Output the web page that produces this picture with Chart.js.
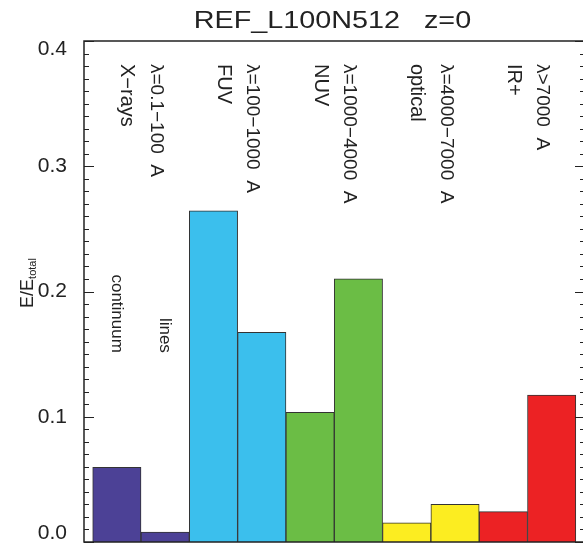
<!DOCTYPE html>
<html>
<head>
<meta charset="utf-8">
<script src="https://cdn.jsdelivr.net/npm/chart.js@4"></script>
<style>
  html, body { margin: 0; padding: 0; background: #fff; overflow: hidden; }
  #wrap { width: 583px; height: 544px; overflow: hidden; }
  canvas { display: block; }
</style>
</head>
<body>
<div id="wrap"><canvas id="energyChart" width="592" height="544"></canvas></div>
<script>
// energy fraction per band, split into continuum and line emission
const bands = ['X\u2212rays', 'FUV', 'NUV', 'optical', 'IR+'];
const bandRanges = ['\u03bb=0.1\u2212100  A', '\u03bb=100\u22121000  A', '\u03bb=1000\u22124000  A', '\u03bb=4000\u22127000  A', '\u03bb>7000  A'];
const components = ['continuum', 'lines'];
const continuumFrac = [0.0596, 0.2645, 0.1035, 0.0154, 0.0242];
const linesFrac = [0.0080, 0.1674, 0.2102, 0.0301, 0.1174];
const bandColors = ['#4c4196', '#3bbfed', '#6bbd45', '#fced21', '#ec2224'];
const yTicks = [0, 0.1, 0.2, 0.3, 0.4];
const yTickLabels = ['0.0', '0.1', '0.2', '0.3', '0.4'];

const FONT = '"Liberation Sans", Arial, sans-serif';
const INK = '#222';

// one bar per (band, component), placed at x = 0..9
const bars = [];
const barColors = [];
bands.forEach((b, i) => {
    bars.push({ x: 2 * i, y: continuumFrac[i] });
    bars.push({ x: 2 * i + 1, y: linesFrac[i] });
    barColors.push(bandColors[i], bandColors[i]);
});

const decorations = {
    id: 'decorations',
    beforeDraw(chart) {
        const ctx = chart.ctx;
        ctx.save();
        ctx.fillStyle = '#fff';
        ctx.fillRect(0, 0, chart.width, chart.height);
        ctx.restore();
    },
    afterDatasetsDraw(chart) {
        const ctx = chart.ctx;
        const area = chart.chartArea;
        const xs = chart.scales.x;
        const ys = chart.scales.y;
        ctx.save();

        // frame
        ctx.strokeStyle = INK;
        ctx.lineWidth = 1.5;
        ctx.strokeRect(area.left, area.top, area.right - area.left, area.bottom - area.top);

        // inward ticks, minor every 0.01
        ctx.lineWidth = 1.2;
        ctx.beginPath();
        for (let k = 0; k <= 40; k++) {
            const py = Math.round(ys.getPixelForValue(k / 100)) + 0.5;
            const len = k % 10 === 0 ? 10 : 5;
            ctx.moveTo(area.left, py);
            ctx.lineTo(area.left + len, py);
            ctx.moveTo(area.right, py);
            ctx.lineTo(area.right - len, py);
        }
        ctx.stroke();

        // title, the original font is noticeably wide
        ctx.fillStyle = INK;
        ctx.save();
        ctx.translate((area.left + area.right) / 2 - 2, 28);
        ctx.scale(1.25, 1);
        ctx.font = '23px ' + FONT;
        ctx.textAlign = 'center';
        ctx.textBaseline = 'alphabetic';
        ctx.fillText('REF_L100N512   z=0', 0, 0);
        ctx.restore();

        // y axis title E/E_total
        ctx.save();
        ctx.translate(33, 283);
        ctx.rotate(-Math.PI / 2);
        ctx.font = '18px ' + FONT;
        const mainW = ctx.measureText('E/E').width;
        ctx.font = '11px ' + FONT;
        const subW = ctx.measureText('total').width;
        const start = -(mainW + subW) / 2;
        ctx.textAlign = 'left';
        ctx.font = '18px ' + FONT;
        ctx.fillText('E/E', start, 0);
        ctx.font = '11px ' + FONT;
        ctx.fillText('total', start + mainW, 3);
        ctx.restore();

        // band names and wavelength ranges, rotated
        ctx.textBaseline = 'middle';
        bands.forEach((name, i) => {
            const cx = xs.getPixelForValue(2 * i + 0.5);
            [[name, cx - 14, 20], [bandRanges[i], cx + 15, 19]].forEach(([txt, px, size]) => {
                ctx.save();
                ctx.translate(px, 64);
                ctx.rotate(Math.PI / 2);
                ctx.font = size + 'px ' + FONT;
                ctx.textAlign = 'left';
                ctx.fillText(txt, 0, 0);
                ctx.restore();
            });
        });

        // component labels over the X-ray pair
        ctx.font = '17px ' + FONT;
        components.forEach((c, j) => {
            ctx.save();
            ctx.translate(xs.getPixelForValue(j), ys.getPixelForValue(0.151));
            ctx.rotate(Math.PI / 2);
            ctx.textAlign = 'right';
            ctx.fillText(c, 0, 0);
            ctx.restore();
        });

        ctx.restore();
    }
};

new Chart(document.getElementById('energyChart'), {
    type: 'bar',
    data: {
        datasets: [{
            data: bars,
            backgroundColor: barColors,
            borderColor: '#333',
            borderWidth: 1,
            barPercentage: 1,
            categoryPercentage: 1
        }]
    },
    plugins: [decorations],
    options: {
        responsive: false,
        animation: false,
        devicePixelRatio: 1,
        layout: { padding: { top: 41, right: 7, bottom: 2, left: 0 } },
        plugins: {
            legend: { display: false },
            tooltip: { enabled: false },
            title: { display: false }
        },
        scales: {
            x: {
                type: 'linear',
                min: -0.68,
                max: 9.69,
                offset: false,
                display: false,
                ticks: { autoSkip: false },
                afterBuildTicks: (scale) => { scale.ticks = bars.map(b => ({ value: b.x })); }
            },
            y: {
                min: 0,
                max: 0.4,
                grid: { display: false },
                border: { display: false },
                afterBuildTicks: (scale) => { scale.ticks = yTicks.map(v => ({ value: v })); },
                afterFit: (scale) => { scale.width = 84; scale.paddingTop = 0; scale.paddingBottom = 0; },
                ticks: {
                    autoSkip: false,
                    padding: 9,
                    color: INK,
                    font: { family: FONT, size: 21, lineHeight: 0.8 },
                    callback: (v, i) => {
                        // keep the end labels inside the frame like the original
                        if (i === 0) return [yTickLabels[i], ''];
                        if (i === yTicks.length - 1) return ['', yTickLabels[i]];
                        return yTickLabels[i];
                    }
                }
            }
        }
    }
});
</script>
</body>
</html>
